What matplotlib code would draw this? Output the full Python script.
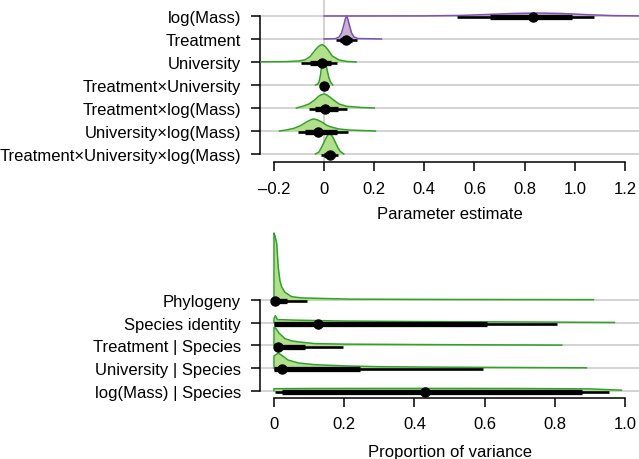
import numpy as np
import matplotlib
matplotlib.use("Agg")
import matplotlib.pyplot as plt

plt.rcParams['font.family'] = ['Liberation Sans', 'DejaVu Sans']
plt.rcParams['font.size'] = 12

# ── Fixed effects (top panel) ────────────────────────────────
fixed_labels = ["log(Mass)", "Treatment", "University", "Treatment×University",
                "Treatment×log(Mass)", "University×log(Mass)",
                "Treatment×University×log(Mass)"]
fixed_purple = [True, True, False, False, False, False, False]

# posterior median, inner interval, outer interval
fixed_med = [0.834, 0.089, -0.007, 0.0, 0.005, -0.025, 0.022]
fixed_in_lo = [0.662, 0.065, -0.054, -0.010, -0.035, -0.075, 0.000]
fixed_in_hi = [0.990, 0.110, 0.029, 0.012, 0.055, 0.050, 0.045]
fixed_out_lo = [0.530, 0.046, -0.090, -0.015, -0.060, -0.104, -0.010]
fixed_out_hi = [1.077, 0.132, 0.050, 0.020, 0.090, 0.095, 0.055]

# posterior density outlines (x, relative height)
fixed_dens_x = [
    [0.0, 0.4, 0.55, 0.65, 0.75, 0.85, 0.95, 1.05, 1.15, 1.256],
    [0.0, 0.045, 0.06, 0.07, 0.08, 0.085, 0.09, 0.095, 0.1, 0.11, 0.12, 0.135, 0.229],
    [-0.255, -0.15, -0.1, -0.075, -0.055, -0.035, -0.02, -0.007, 0.005, 0.015, 0.033, 0.06, 0.09, 0.128],
    [-0.034, -0.025, -0.02, -0.014, -0.01, -0.005, 0.0, 0.005, 0.01, 0.015, 0.02, 0.026, 0.035],
    [-0.11, -0.085, -0.06, -0.04, -0.02, -0.008, 0.003, 0.015, 0.033, 0.06, 0.09, 0.15, 0.2],
    [-0.177, -0.15, -0.12, -0.094, -0.07, -0.05, -0.04, -0.025, -0.007, 0.012, 0.033, 0.06, 0.1, 0.205],
    [-0.034, -0.02, -0.007, 0.006, 0.015, 0.022, 0.03, 0.039, 0.055, 0.065, 0.079],
]
fixed_dens_h = [
    [0, 0.1, 0.6, 1.5, 2.5, 3, 2.5, 1.3, 0.4, 0.1],
    [0, 0.3, 2, 6, 15, 20, 23, 20, 15, 6, 2, 0.5, 0],
    [0.2, 0.4, 1, 2.2, 5.5, 12, 16, 17.5, 15.5, 12.5, 6, 2, 0.6, 0],
    [0, 1, 3, 10, 18, 24, 25, 23, 18, 12, 7, 3, 0],
    [0, 1.7, 4, 7.5, 12, 13.5, 14, 12.5, 9, 4, 1.7, 0.5, 0],
    [0, 1, 2.7, 5.3, 9, 11.5, 12, 11, 8.7, 5.5, 3.7, 2, 1, 0],
    [0, 2, 8, 15, 19, 20, 19, 15, 6.5, 2.5, 0],
]
fixed_ticks = [-0.2, 0, 0.2, 0.4, 0.6, 0.8, 1.0, 1.2]
fixed_ticklabels = ["–0.2", "0", "0.2", "0.4", "0.6", "0.8", "1.0", "1.2"]

# ── Variance components (bottom panel) ───────────────────────
var_labels = ["Phylogeny", "Species identity", "Treatment | Species",
              "University | Species", "log(Mass) | Species"]
var_med = [0.003, 0.124, 0.010, 0.022, 0.431]
var_in_lo = [0.0, 0.0, 0.0, 0.0, 0.022]
var_in_hi = [0.036, 0.608, 0.087, 0.246, 0.877]
var_out_lo = [0.0, 0.0, 0.0, 0.0, 0.003]
var_out_hi = [0.093, 0.806, 0.196, 0.596, 0.955]

var_dens_x = [
    [0, 0, 0.003, 0.008, 0.012, 0.017, 0.022, 0.031, 0.05, 0.08, 0.22, 0.5, 0.91],
    [0, 0, 0.004, 0.01, 0.02, 0.05, 0.1, 0.2, 0.4, 0.6, 0.8, 0.97],
    [0, 0, 0.005, 0.015, 0.031, 0.05, 0.07, 0.117, 0.2, 0.4, 0.6, 0.82],
    [0, 0, 0.012, 0.025, 0.04, 0.07, 0.117, 0.21, 0.3, 0.5, 0.7, 0.89],
    [0, 0, 0.1, 0.3, 0.5, 0.7, 0.9, 0.99],
]
var_dens_h = [
    [0, 67, 64, 56, 33, 19, 13, 7.7, 3.3, 2, 0.8, 0.5, 0.3],
    [0, 4, 7, 3, 3, 2.6, 2.2, 1.6, 1.1, 0.8, 0.5, 0.2],
    [0, 18, 17, 12, 6.7, 4.5, 3.4, 1.7, 1.2, 0.8, 0.5, 0.2],
    [0, 12, 15, 12, 8, 5, 3.3, 2, 1.3, 0.8, 0.5, 0.2],
    [0, 2, 2.2, 2.3, 2.3, 2.2, 1.8, 0.5],
]
var_ticks = [0, 0.2, 0.4, 0.6, 0.8, 1.0]
var_ticklabels = ["0", "0.2", "0.4", "0.6", "0.8", "1.0"]

# colours (ColorBrewer "Paired")
GREEN_LINE, GREEN_FILL = "#33a02c", "#b2df8a"
PURPLE_LINE, PURPLE_FILL = "#7b52ae", "#cab2d6"
GRID = "#c8c8c8"


def ridge_panel(ax, labels, dens_x, dens_h, purple, med, in_lo, in_hi,
                out_lo, out_hi, scale):
    n = len(labels)
    rows = np.arange(n)
    for r in rows:
        ax.axhline(r, color=GRID, lw=1.1, zorder=0)
    for r in rows:
        x = np.array(dens_x[r])
        h = np.array(dens_h[r]) / scale
        lc, fc = (PURPLE_LINE, PURPLE_FILL) if purple[r] else (GREEN_LINE, GREEN_FILL)
        ax.fill_between(x, r, r - h, color=fc, lw=0, zorder=2)
        ax.plot(x, r - h, color=lc, lw=1.1, zorder=3)
    off = 0.06
    for r in rows:
        ax.plot([out_lo[r], out_hi[r]], [r + off, r + off], color="black",
                lw=1.9, solid_capstyle="butt", zorder=5)
        ax.plot([in_lo[r], in_hi[r]], [r + off, r + off], color="black",
                lw=3.8, solid_capstyle="butt", zorder=6)
        ax.plot(med[r], r + off, "o", color="black", ms=6.5, zorder=7)
    ax.set_yticks(rows)
    ax.set_yticklabels(labels)
    ax.spines["top"].set_visible(False)
    ax.spines["right"].set_visible(False)
    ax.spines["left"].set_bounds(0, n - 1)
    for s in ("left", "bottom"):
        ax.spines[s].set_linewidth(1.1)
    ax.tick_params(axis="both", length=6.5, width=1.1, direction="out")
    ax.tick_params(axis="y", pad=7)
    ax.tick_params(axis="x", pad=7)


fig = plt.figure(figsize=(6.39, 4.6), dpi=100)

# top panel
ax1 = fig.add_axes([260 / 639, (460 - 163.3) / 460, 379 / 639, 163.3 / 460])
ax1.axvline(0, color=GRID, lw=1.1, zorder=0)
ridge_panel(ax1, fixed_labels, fixed_dens_x, fixed_dens_h, fixed_purple,
            fixed_med, fixed_in_lo, fixed_in_hi, fixed_out_lo, fixed_out_hi, 23.0)
ax1.set_xlim(-0.2552, 1.256)
ax1.set_ylim(6.361, -0.739)
ax1.set_xticks(fixed_ticks)
ax1.set_xticklabels(fixed_ticklabels)
ax1.spines["bottom"].set_bounds(-0.2, 1.2)
ax1.set_xlabel("Parameter estimate", labelpad=7)

# bottom panel
ax2 = fig.add_axes([260 / 639, (460 - 398.5) / 460, 379 / 639, (398.5 - 228) / 460])
ridge_panel(ax2, var_labels, var_dens_x, var_dens_h, [False] * len(var_labels),
            var_med, var_in_lo, var_in_hi, var_out_lo, var_out_hi, 22.7)
ax2.set_xlim(-0.0399, 1.04)
ax2.set_ylim(4.30, -3.216)
ax2.set_xticks(var_ticks)
ax2.set_xticklabels(var_ticklabels)
ax2.spines["bottom"].set_bounds(0, 1.0)
ax2.set_xlabel("Proportion of variance", labelpad=9)

fig.savefig("out.png", dpi=100)
